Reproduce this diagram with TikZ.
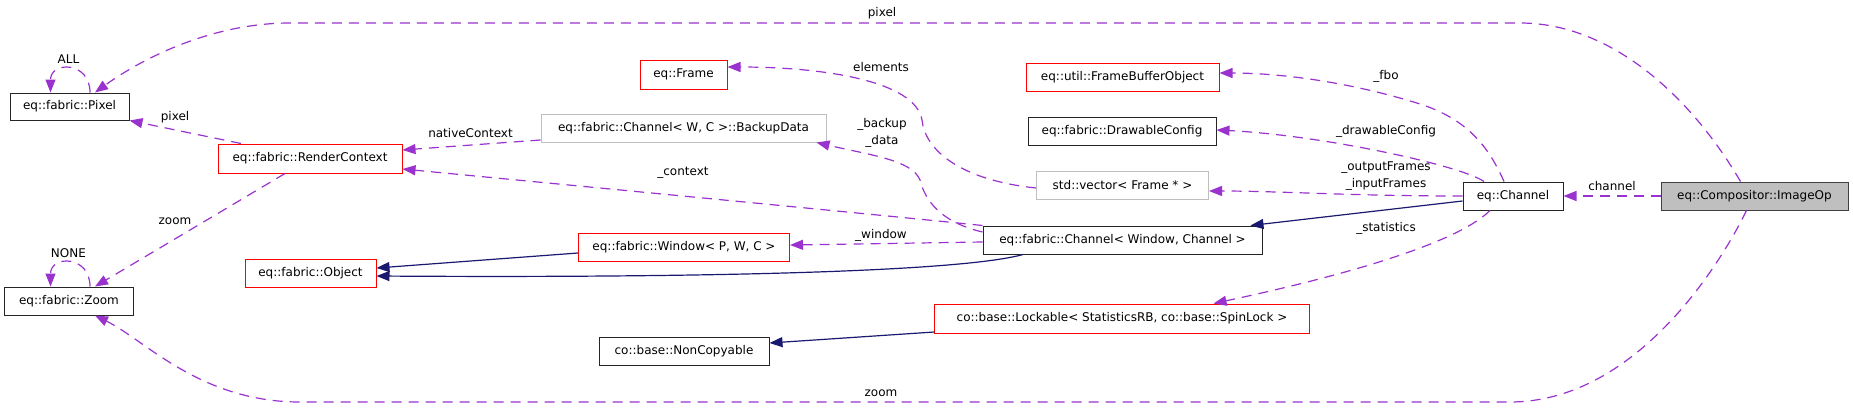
\documentclass[tikz,border=0pt]{standalone}
\usepackage{fontspec}
\setmainfont{DejaVu Sans}
\usetikzlibrary{arrows.meta}
\definecolor{usecol}{HTML}{9A32CD}
\definecolor{inhcol}{HTML}{191970}
\definecolor{lightg}{HTML}{BFBFBF}

\begin{document}
\begin{tikzpicture}[x=1pt,y=-1pt,
  every node/.style={font=\fontsize{12}{17}\selectfont},
  cls/.style={draw=black!85,line width=1pt,minimum height=28pt,inner sep=0pt},
  clsred/.style={cls,draw=red},
  clsgray/.style={cls,draw=lightg},
  lbl/.style={inner sep=0pt,align=center},
  use/.style={usecol,line width=1.2pt,dash pattern=on 10pt off 7pt,-{Triangle[length=13pt,width=10pt]}},
  inh/.style={inhcol,line width=1.2pt,-{Triangle[length=13pt,width=10pt]}}]
  \useasboundingbox (0,0) rectangle (1853,408);
  % Classes
  \node[cls,fill=lightg,draw=black!75,minimum width=187pt] (imageop) at (1754.5,196) {eq::Compositor::ImageOp};
  \node[cls,minimum width=100pt] (channel) at (1513,196) {eq::Channel};
  \node[cls,minimum width=119pt,minimum height=27pt] (pixel) at (69.5,106.5) {eq::fabric::Pixel};
  \node[clsred,minimum width=184pt,minimum height=29pt] (rctx) at (310,158.5) {eq::fabric::RenderContext};
  \node[cls,minimum width=129pt] (fzoom) at (69,301) {eq::fabric::Zoom};
  \node[clsred,minimum width=131pt] (object) at (310.5,273) {eq::fabric::Object};
  \node[clsred,minimum width=211pt] (window) at (684,247) {eq::fabric::Window< P, W, C >};
  \node[cls,minimum width=170pt] (noncopy) at (684,351) {co::base::NonCopyable};
  \node[clsgray,minimum width=285pt] (backup) at (683.5,128) {eq::fabric::Channel< W, C >::BackupData};
  \node[clsred,minimum width=87pt,minimum height=29pt] (frame) at (683.5,74.5) {eq::Frame};
  \node[cls,minimum width=279pt] (fchan) at (1122.5,240) {eq::fabric::Channel< Window, Channel >};
  \node[clsred,minimum width=193pt] (fbo) at (1122.5,77) {eq::util::FrameBufferObject};
  \node[cls,minimum width=188pt] (drawcfg) at (1122,131) {eq::fabric::DrawableConfig};
  \node[clsgray,minimum width=172pt] (framevec) at (1122.5,185) {std::vector< Frame * >};
  \node[clsred,minimum width=374.5pt,minimum height=29pt] (lockable) at (1122,318.5) {co::base::Lockable< StatisticsRB, co::base::SpinLock >};
  % Inheritance
  \draw[inh] ([yshift=-5pt]channel.west) -- ([xshift=-12pt]fchan.north east);
  \draw[inh] ([yshift=-6pt]window.west) -- ([yshift=5pt]object.east);
  \draw[inh] ([xshift=-99.5pt]fchan.south) .. controls (960,272) and (700,278) .. ([yshift=-3pt]object.east);
  \draw[inh] ([yshift=-13.5pt]lockable.west) -- ([yshift=8pt]noncopy.east);
  % Usage from ImageOp
  \draw[use] (imageop.west) -- (channel.east);
  \draw[use] ([xshift=-14pt]imageop.north) .. controls (1690,95) and (1610,23) .. (1520,23)
    -- (290,23) .. controls (210,23) and (140,60) .. ([xshift=25.5pt]pixel.north);
  \draw[use] ([xshift=-8pt]imageop.south) .. controls (1715,275) and (1630,402) .. (1510,402)
    -- (300,402) .. controls (200,402) and (145,340) .. ([xshift=26pt]fzoom.south);
  % Usage from eq::Channel
  \draw[use] ([xshift=-9pt]channel.north) .. controls (1490,150) and (1470,120) .. (1420,104)
    .. controls (1350,82) and (1280,73) .. ([yshift=4pt]fbo.east);
  \draw[use] ([xshift=-29pt]channel.north) .. controls (1460,165) and (1320,135) .. ([yshift=1pt]drawcfg.east);
  \draw[use] (channel.west) .. controls (1350,196) and (1280,191) .. ([yshift=-6pt]framevec.east);
  \draw[use] ([xshift=-23pt]channel.south) .. controls (1450,250) and (1300,285) .. ([xshift=91.5pt]lockable.north);
  % Usage from fabric::Channel
  \draw[use] (fchan.north west) .. controls (860,213) and (600,188) .. ([yshift=-10.5pt]rctx.east);
  \draw[use] ([yshift=8pt]fchan.west) .. controls (940,222) and (925,200) .. (920,180)
    .. controls (912,160) and (870,155) .. ([xshift=-10pt]backup.south east);
  \draw[use] ([yshift=-2pt]fchan.west) -- ([yshift=2pt]window.east);
  \draw[use] ([yshift=-3pt]framevec.west) .. controls (960,180) and (925,150) .. (922,120)
    .. controls (915,80) and (820,67) .. ([yshift=7.5pt]frame.east);
  % Usage from RenderContext
  \draw[use] ([yshift=-12pt]backup.west) -- ([yshift=8.5pt]rctx.east);
  \draw[use] ([xshift=-69pt]rctx.north) -- (pixel.south east);
  \draw[use] ([xshift=-25pt]rctx.south) -- ([xshift=26pt]fzoom.north);
  % Self loops
  \draw[use] ([xshift=20.5pt]pixel.north) .. controls (90,61) and (50.5,61) .. ([xshift=-19pt]pixel.north);
  \draw[use] ([xshift=21pt]fzoom.north) .. controls (90,255) and (50.5,255) .. ([xshift=-18.5pt]fzoom.north);
  % Labels
  \node[lbl] (l-all) at (68.4,59) {ALL};
  \node[lbl] (l-none) at (68.4,253) {NONE};
  \node[lbl] (l-pixtop) at (882,13) {pixel};
  \node[lbl] (l-zoombot) at (881,393) {zoom};
  \node[lbl] (l-channel) at (1612,186) {channel};
  \node[lbl] (l-fbo) at (1386,76) {\_fbo};
  \node[lbl] (l-drawcfg) at (1386,131) {\_drawableConfig};
  \node[lbl] (l-frames) at (1386,176.5) {\_outputFrames\\\_inputFrames};
  \node[lbl] (l-stats) at (1386,228) {\_statistics};
  \node[lbl] (l-elements) at (881,67) {elements};
  \node[lbl] (l-backup) at (882,132.5) {\_backup\\\_data};
  \node[lbl] (l-context) at (683,173) {\_context};
  \node[lbl] (l-window) at (881,235) {\_window};
  \node[lbl] (l-native) at (470.5,133) {nativeContext};
  \node[lbl] (l-pixel) at (175,117) {pixel};
  \node[lbl] (l-zoom) at (175,221) {zoom};
\end{tikzpicture}
\end{document}
